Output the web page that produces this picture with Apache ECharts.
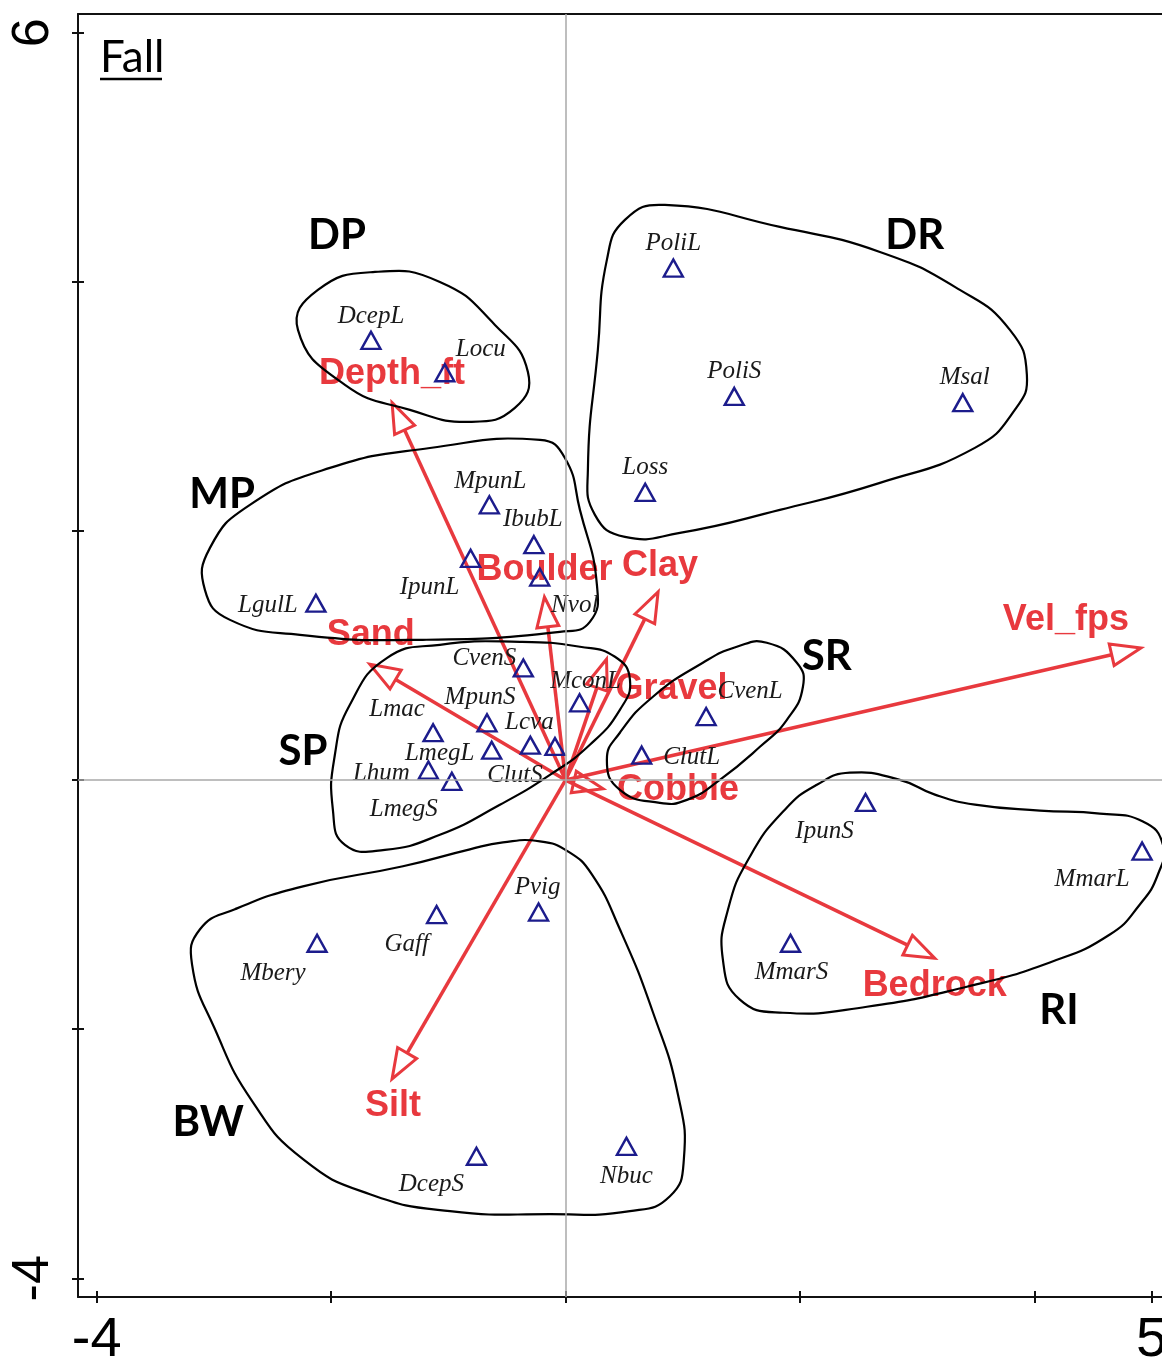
<!DOCTYPE html>
<html><head><meta charset="utf-8">
<script src="https://cdn.jsdelivr.net/npm/echarts@6/dist/echarts.min.js"></script>
<style>html,body{margin:0;padding:0;background:#fff}#c{width:1162px;height:1370px}</style>
</head><body><div id="c"></div>
<script>
// ---- data ----
const speciesNames = ['PoliL','DcepL','Locu','PoliS','Msal','Loss','MpunL','IbubL','IpunL','Nvol','LgulL','CvenS','MconL','CvenL','MpunS','Lmac','Lcva','ClutS','LmegL','Lhum','LmegS','ClutL','IpunS','MmarL','MmarS','Pvig','Gaff','Mbery','DcepS','Nbuc'];
const speciesX = [0.92,-1.66,-1.03,1.44,3.39,0.68,-0.65,-0.27,-0.81,-0.22,-2.13,-0.36,0.12,1.20,-0.67,-1.13,-0.30,-0.09,-0.63,-1.17,-0.97,0.65,2.56,4.92,1.92,-0.23,-1.10,-2.12,-0.76,0.52];
const speciesY = [4.11,3.53,3.27,3.08,3.03,2.31,2.21,1.89,1.78,1.63,1.42,0.90,0.62,0.51,0.46,0.38,0.28,0.27,0.24,0.08,-0.01,0.20,-0.18,-0.57,-1.31,-1.06,-1.08,-1.31,-3.02,-2.94];

const envNames = ['Depth_ft','Boulder','Clay','Vel_fps','Sand','Gravel','Cobble','Bedrock','Silt'];
const envX = [-1.48,-0.18,0.79,4.91,-1.67,0.35,0.32,3.15,-1.48];
const envY = [3.03,1.47,1.51,1.06,0.93,0.97,-0.07,-1.43,-2.40];

const groupNames = ['DP','DR','MP','SR','SP','RI','BW'];
const groupX = [-1.95,2.98,-2.93,2.23,-2.24,4.21,-3.05];
const groupY = [4.37,4.37,2.29,0.99,0.23,-1.85,-2.75];

const hullDP = [[-2.283,3.614],[-2.113,3.935],[-1.626,4.079],[-1.072,3.999],[-0.602,3.654],[-0.321,3.277],[-0.432,2.988],[-0.816,2.876],[-1.328,2.972],[-1.882,3.173]];
const hullDR = [[0.507,4.497],[0.848,4.617],[1.829,4.441],[2.683,4.240],[3.365,3.935],[3.792,3.614],[3.937,3.253],[3.834,2.972],[3.493,2.667],[2.683,2.386],[1.829,2.169],[0.976,1.984],[0.507,1.952],[0.251,2.129],[0.191,2.490],[0.276,3.453],[0.353,4.176]];
const hullMP = [[-0.218,2.731],[-0.005,2.586],[0.123,2.169],[0.268,1.567],[0.208,1.270],[-0.048,1.190],[-1.217,1.126],[-2.266,1.166],[-2.863,1.286],[-3.077,1.527],[-3.034,1.864],[-2.693,2.209],[-2.010,2.506],[-1.157,2.666]];
const hullSP = [[-1.522,0.981],[-1.072,1.086],[-0.389,1.110],[0.123,1.070],[0.422,0.990],[0.550,0.805],[0.464,0.564],[0.208,0.283],[-0.133,0.042],[-0.560,-0.198],[-1.072,-0.439],[-1.541,-0.560],[-1.882,-0.520],[-1.985,-0.239],[-1.968,0.203],[-1.840,0.604]];
const hullSR = [[1.718,1.102],[1.974,0.942],[2.026,0.749],[1.889,0.484],[1.659,0.267],[1.317,0.002],[1.036,-0.159],[0.805,-0.183],[0.464,-0.078],[0.353,0.163],[0.464,0.380],[0.746,0.669],[1.172,0.942],[1.462,1.070]];
const hullRI = [[2.427,0.059],[2.853,0.002],[3.152,-0.117],[3.494,-0.197],[4.048,-0.245],[4.560,-0.269],[4.927,-0.333],[5.098,-0.518],[5.055,-0.758],[4.901,-0.999],[4.645,-1.240],[4.133,-1.464],[3.425,-1.659],[2.572,-1.820],[1.855,-1.868],[1.488,-1.763],[1.343,-1.442],[1.386,-1.041],[1.573,-0.615],[1.872,-0.238],[2.145,-0.038]];
const hullBW = [[-0.534,-0.500],[-0.218,-0.492],[0.020,-0.572],[0.225,-0.757],[0.464,-1.198],[0.746,-1.864],[0.959,-2.522],[1.010,-3.044],[0.891,-3.341],[0.550,-3.461],[-0.133,-3.485],[-0.986,-3.461],[-1.669,-3.325],[-2.240,-3.044],[-2.667,-2.587],[-2.991,-2.001],[-3.187,-1.479],[-3.119,-1.198],[-2.821,-1.037],[-2.240,-0.853],[-1.387,-0.692],[-0.816,-0.556]];

const xTicks = [-4,-2,0,2,4,5];
const xTickLabels = [-4,5];
const yTicks = [-4,-2,0,2,4,6];
const yTickLabels = [-4,6];

// ---- styling (pixel label shifts) ----
const speciesLabelShift = {PoliL:[0,-25],DcepL:[0,-24],Locu:[36,-23],PoliS:[0,-25],Msal:[2,-25],Loss:[0,-25],MpunL:[1,-23],IbubL:[-1,-25],IpunL:[-41,29],Nvol:[35,28],LgulL:[-48,2],CvenS:[-39,-10],MconL:[6,-21],CvenL:[44,-25],MpunS:[-7,-25],Lmac:[-36,-23],Lcva:[-1,-23],ClutS:[-40,29],LmegL:[-52,3],Lhum:[-47,3],LmegS:[-48,28],ClutL:[50,2],IpunS:[-41,29],MmarL:[-50,28],MmarS:[1,29],Pvig:[-1,-25],Gaff:[-30,30],Mbery:[-44,30],DcepS:[-45,28],Nbuc:[0,30]};
const envLabelShift = {Depth_ft:[0,-29],Boulder:[0,-27],Clay:[2,-26],Vel_fps:[-75,-28],Sand:[1,-29],Gravel:[65,30],Cobble:[75,1],Bedrock:[0,28],Silt:[1,27]};

const RED = '#e8393e';
const NAVY = '#1c1c8c';
const hulls = [hullDP,hullDR,hullMP,hullSR,hullSP,hullRI,hullBW];
const tickFont = "'Liberation Sans Narrow','Liberation Sans',Arial,sans-serif";

const chart = echarts.init(document.getElementById('c'), null, {renderer:'canvas'});

function xAxisDef(pos, inside, labels, ticks){
  return {
    type:'value', min:-4.16, max:5.09, position:pos, gridIndex:0,
    axisLine:{show:!inside, onZero:false, lineStyle:{color:'#111', width:2}},
    axisTick:{show:ticks, inside:inside, length:6, customValues:xTicks, lineStyle:{color:'#111', width:2}},
    axisLabel:{show:labels, customValues:xTickLabels, fontSize:56, color:'#000', fontFamily:tickFont, margin:16},
    splitLine:{show:false}
  };
}
function yAxisDef(inside, labels){
  return {
    type:'value', min:-4.15, max:6.15, position:'left', gridIndex:0,
    axisLine:{show:!inside, onZero:false, lineStyle:{color:'#111', width:2}},
    axisTick:{show:true, inside:inside, length:6, customValues:yTicks, lineStyle:{color:'#111', width:2}},
    axisLabel:{show:labels, customValues:yTickLabels, rotate:90, fontSize:52, color:'#000', fontFamily:tickFont, margin:18},
    splitLine:{show:false}
  };
}

const option = {
  animation:false,
  backgroundColor:'#fff',
  grid:{left:78, top:14, width:1084, height:1283, show:false, containLabel:false, outerBoundsMode:'none'},
  xAxis:[xAxisDef('bottom',false,true,true), xAxisDef('bottom',true,false,true), xAxisDef('top',false,false,false)],
  yAxis:[yAxisDef(false,true), yAxisDef(true,false)],
  graphic:[
    {type:'text', x:100, y:58, z:100, style:{text:'Fall', fill:'#000', font:"44px Lato, 'Open Sans', sans-serif", align:'left', verticalAlign:'middle'}},
    {type:'line', z:100, shape:{x1:100, y1:79, x2:162, y2:79}, style:{stroke:'#000', lineWidth:2.5}}
  ],
  series:[
    {
      type:'scatter', z:1, data:[], silent:true,
      markLine:{silent:true, symbol:'none', label:{show:false}, animation:false,
        lineStyle:{color:'#a8a8a8', width:1.5, type:'solid'},
        data:[{xAxis:0},{yAxis:0}]}
    },
    {
      type:'custom', z:2, silent:true,
      data: envNames.map((n,i)=>[envX[i], envY[i]]),
      encode:{x:0, y:1},
      renderItem:(params, api)=>{
        const i = params.dataIndex;
        const o = api.coord([0,0]);
        const t = api.coord([api.value(0), api.value(1)]);
        const dx = t[0]-o[0], dy = t[1]-o[1];
        const len = Math.hypot(dx,dy);
        const ux = dx/len, uy = dy/len;
        const L = Math.min(30, len*0.8), W = 11;
        const bx = t[0]-ux*L, by = t[1]-uy*L;
        const c1 = [bx - uy*W, by + ux*W], c2 = [bx + uy*W, by - ux*W];
        const sh = envLabelShift[envNames[i]];
        return {type:'group', children:[
          {type:'line', shape:{x1:o[0], y1:o[1], x2:bx, y2:by}, style:{stroke:RED, lineWidth:3.5}},
          {type:'polygon', shape:{points:[t,c1,c2]}, style:{fill:'none', stroke:RED, lineWidth:3, lineJoin:'miter'}},
          {type:'text', x:t[0]+sh[0], y:t[1]+sh[1], style:{text:envNames[i], fill:RED, font:"bold 36px 'Liberation Sans', Arial, sans-serif", align:'center', verticalAlign:'middle'}}
        ]};
      }
    },
    {
      type:'custom', z:3, silent:true,
      data: hulls.map(h=>h[0]),
      encode:{x:0, y:1},
      renderItem:(params, api)=>{
        const pts = hulls[params.dataIndex].map(p=>api.coord(p));
        return {type:'polygon', shape:{points:pts, smooth:0.5}, style:{fill:'none', stroke:'#000', lineWidth:2.2}};
      }
    },
    {
      type:'scatter', z:4, silent:true,
      symbol:'triangle', symbolSize:[19,17],
      itemStyle:{color:'rgba(0,0,0,0)', borderColor:NAVY, borderWidth:2.4, opacity:1},
      label:{show:true, position:'inside', formatter:'{b}', fontFamily:"'Liberation Serif', 'Times New Roman', serif", fontStyle:'italic', fontSize:25, color:'#1a1a1a', opacity:1},
      data: speciesNames.map((n,i)=>({name:n, value:[speciesX[i], speciesY[i]], label:{offset:speciesLabelShift[n]}}))
    },
    {
      type:'scatter', z:5, silent:true,
      symbolSize:1, itemStyle:{color:'rgba(0,0,0,0)', opacity:1},
      label:{show:true, position:'inside', formatter:'{b}', fontFamily:"Lato, 'Open Sans', sans-serif", fontWeight:'bold', fontSize:42, color:'#000', opacity:1},
      data: groupNames.map((n,i)=>({name:n, value:[groupX[i], groupY[i]]}))
    }
  ]
};
chart.setOption(option);
</script>
</body></html>
